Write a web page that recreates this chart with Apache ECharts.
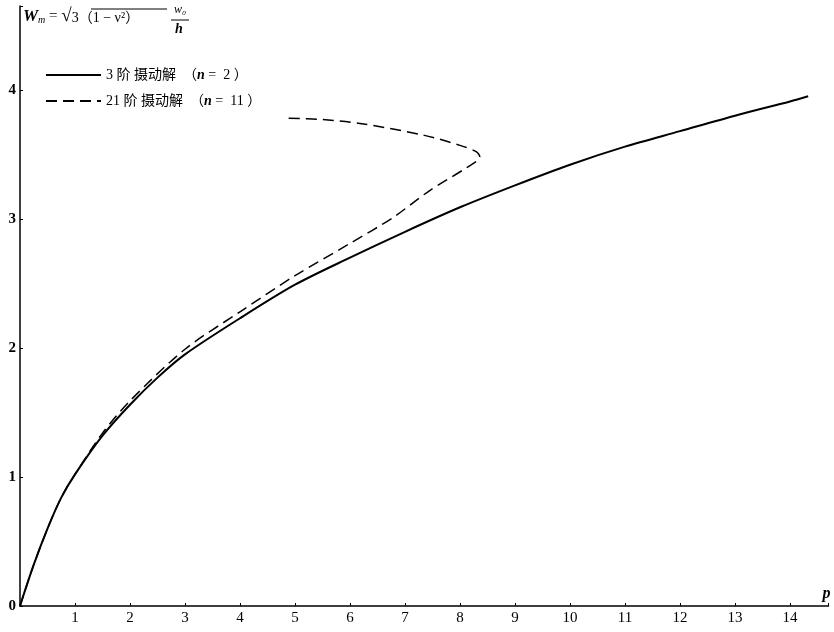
<!DOCTYPE html>
<html><head><meta charset="utf-8">
<script src="https://cdn.jsdelivr.net/npm/echarts@6/dist/echarts.min.js"></script>
<style>html,body{margin:0;padding:0;background:#fff}#c{width:834px;height:632px}</style>
</head><body><div id="c"></div>
<script>
// ---- data ----
const seriesNames = ['3阶摄动解（n = 2）', '21阶摄动解（n = 11）'];
// 3rd-order perturbation solution: [p, Wm]
const solidP = [0, 0.25, 0.5, 0.75, 1, 1.5, 2, 2.5, 3, 4, 5, 6, 7, 8, 9, 10, 11, 12, 13, 14, 14.33];
const solidW = [0, 0.32, 0.6, 0.84, 1.02, 1.32, 1.56, 1.77, 1.95, 2.23, 2.49, 2.70, 2.90, 3.09, 3.26, 3.42, 3.56, 3.68, 3.80, 3.91, 3.95];
// 21st-order perturbation solution: [p, Wm] (turns back at p≈8.4)
const dashP = [0, 0.25, 0.5, 0.75, 1, 1.5, 2, 3, 4, 5, 6, 6.78, 7.45, 8.13, 8.36, 8.3, 8.0, 7.33, 6.18, 5.5, 4.85];
const dashW = [0, 0.32, 0.6, 0.84, 1.02, 1.34, 1.59, 1.99, 2.28, 2.56, 2.81, 3.01, 3.22, 3.40, 3.48, 3.52, 3.57, 3.65, 3.74, 3.77, 3.78];
const xTickLabels = ['', '1', '2', '3', '4', '5', '6', '7', '8', '9', '10', '11', '12', '13', '14'];
const yTickLabels = ['0', '1', '2', '3', '4'];

const serif = 'Liberation Serif, Noto Sans CJK SC, serif';
const zip = (a, b) => a.map((v, i) => [v, b[i]]);

const chart = echarts.init(document.getElementById('c'), null, {renderer: 'canvas'});
chart.setOption({
  backgroundColor: '#fff',
  animation: false,
  grid: {left: 20, right: 5.5, top: 6, bottom: 26},
  xAxis: {
    type: 'value', min: 0, max: 14.7, interval: 1,
    axisLine: {lineStyle: {color: '#000', width: 1.5}},
    axisTick: {show: true, inside: true, length: 3, lineStyle: {color: '#000'}},
    splitLine: {show: false},
    axisLabel: {color: '#000', fontFamily: serif, fontSize: 15, margin: 5,
      formatter: v => (Number.isInteger(v) && v < xTickLabels.length) ? xTickLabels[v] : ''},
    name: 'p', nameLocation: 'end', nameGap: -6,
    nameTextStyle: {color: '#000', fontFamily: serif, fontSize: 16, fontStyle: 'italic', fontWeight: 'bold', verticalAlign: 'bottom', padding: [0, 0, 4, 0]}
  },
  yAxis: {
    type: 'value', min: 0, max: 4.65, interval: 1,
    axisLine: {lineStyle: {color: '#000', width: 1.5}},
    axisTick: {show: true, inside: true, length: 3, lineStyle: {color: '#000'}},
    splitLine: {show: false},
    axisLabel: {color: '#000', fontFamily: serif, fontSize: 15, fontWeight: 'bold', margin: 4,
      formatter: v => (Number.isInteger(v) && v < yTickLabels.length) ? yTickLabels[v] : ''}
  },
  legend: {
    orient: 'vertical', left: 40, top: 63, itemGap: 12,
    itemWidth: 55, itemHeight: 14,
    data: seriesNames,
    itemStyle: {opacity: 0},
    textStyle: {color: '#000', fontFamily: serif, fontSize: 14,
      rich: {i: {fontFamily: serif, fontSize: 14, fontStyle: 'italic', fontWeight: 'bold', color: '#000'}}},
    formatter: name => name.replace('阶', ' 阶 ').replace('（n =', '  （{i|n} =').replace(/(\d+)）$/, ' $1 ）')
  },
  series: [
    {name: seriesNames[0], type: 'line', data: zip(solidP, solidW), smooth: 0.3,
     symbol: 'none', lineStyle: {color: '#000', width: 2}, itemStyle: {color: '#000'}},
    {name: seriesNames[1], type: 'line', data: zip(dashP, dashW), smooth: 0.3,
     symbol: 'none', lineStyle: {color: '#000', width: 1.5, type: [11, 6]}, itemStyle: {color: '#000'}}
  ],
  graphic: [
    {type: 'text', left: 23, top: 7, style: {
      text: '{w|W}{m|m}{e| = }{r|√}{o|3（1 − ν²）}',
      rich: {
        w: {fontFamily: serif, fontSize: 17, fontStyle: 'italic', fontWeight: 'bold', fill: '#000'},
        m: {fontFamily: serif, fontSize: 10, fontStyle: 'italic', fill: '#000', padding: [8, 0, 0, 0]},
        e: {fontFamily: serif, fontSize: 15, fill: '#000'},
        r: {fontFamily: serif, fontSize: 19, fill: '#000'},
        o: {fontFamily: serif, fontSize: 14, fill: '#000', padding: [3, 0, 0, 0]}
      }}},
    {type: 'line', shape: {x1: 91, y1: 9, x2: 167, y2: 9}, style: {stroke: '#000', lineWidth: 1}},
    {type: 'text', left: 174, top: 4, style: {text: 'w₀', fontFamily: serif, fontSize: 12, fontStyle: 'italic', fill: '#000'}},
    {type: 'line', shape: {x1: 171, y1: 20, x2: 189, y2: 20}, style: {stroke: '#000', lineWidth: 1}},
    {type: 'text', left: 175, top: 22, style: {text: 'h', fontFamily: serif, fontSize: 14, fontStyle: 'italic', fontWeight: 'bold', fill: '#000'}}
  ]
});
</script></body></html>
